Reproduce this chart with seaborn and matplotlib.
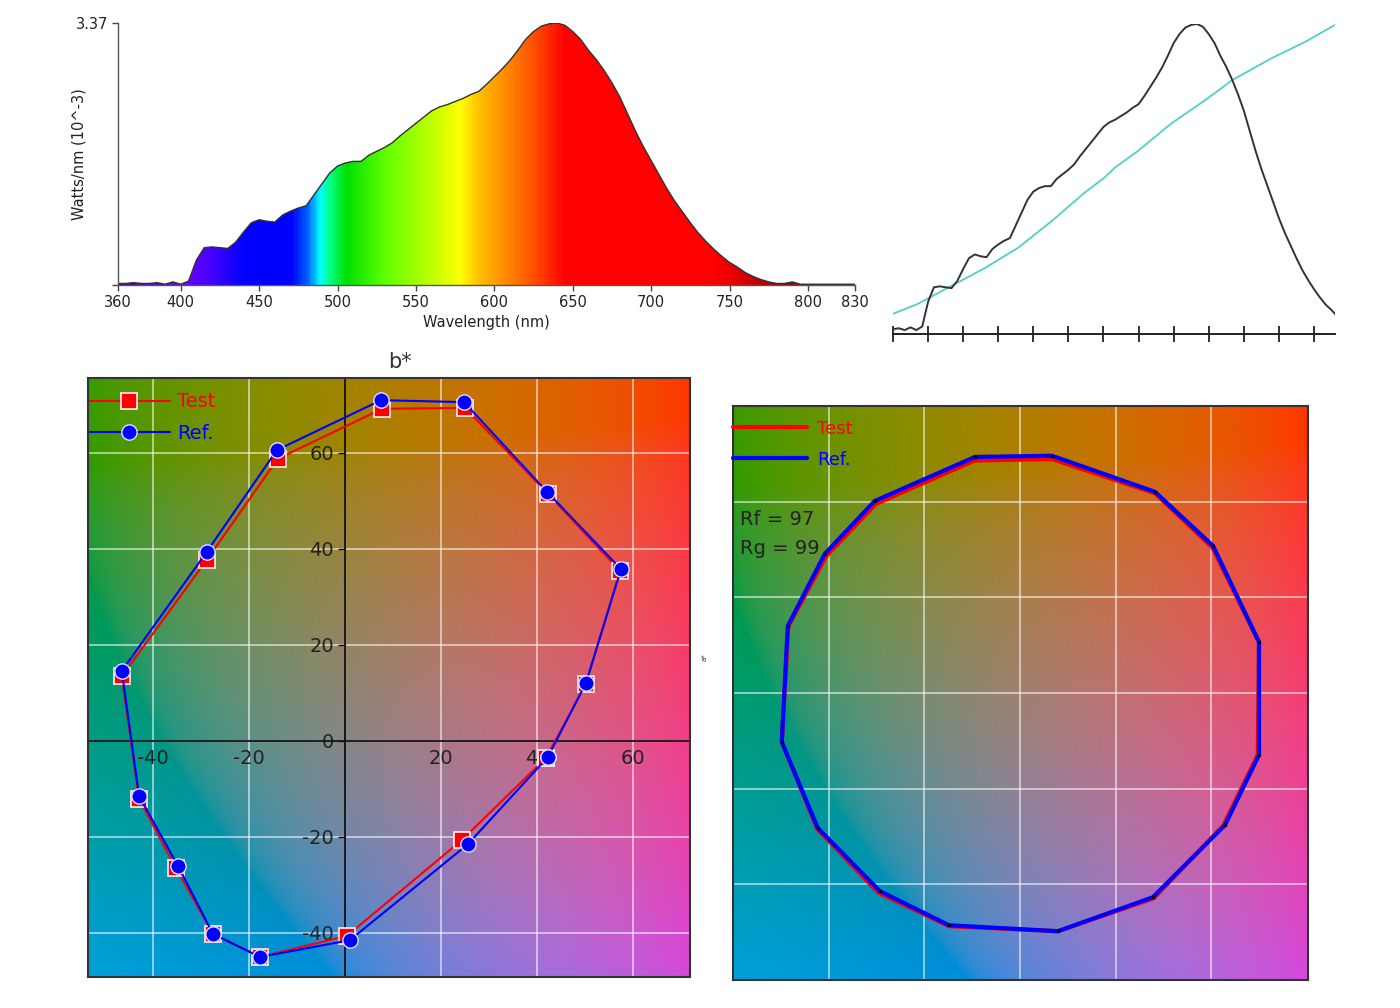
import numpy as np
import matplotlib
matplotlib.use('Agg')
import matplotlib.pyplot as plt
from matplotlib.colors import LinearSegmentedColormap
from matplotlib.patches import Rectangle
import seaborn as sns

sns.set_style('white')
plt.rcParams['font.family'] = ['DejaVu Sans']
plt.rcParams['axes.unicode_minus'] = False

# ── 1. Data ──────────────────────────────────────────────────
# spectral power distribution, 360-830 nm every 5 nm (Watts/nm, 10^-3)
wavelength = np.arange(360, 835, 5)
spd = np.array([
    0.02, 0.02, 0.03, 0.02, 0.02, 0.03, 0.01, 0.04, 0.01, 0.05,
    0.32, 0.48, 0.49, 0.48, 0.47, 0.55, 0.68, 0.80, 0.84, 0.82,
    0.81, 0.90, 0.95, 0.99, 1.02, 1.16, 1.30, 1.44, 1.53, 1.57,
    1.59, 1.59, 1.67, 1.72, 1.77, 1.83, 1.92, 2.00, 2.08, 2.16,
    2.24, 2.29, 2.32, 2.36, 2.40, 2.45, 2.49, 2.58, 2.68, 2.78,
    2.89, 3.02, 3.16, 3.26, 3.33, 3.36, 3.37, 3.34, 3.26, 3.16,
    3.02, 2.90, 2.76, 2.60, 2.42, 2.20, 1.98, 1.78, 1.60, 1.42,
    1.24, 1.08, 0.94, 0.80, 0.67, 0.56, 0.46, 0.37, 0.29, 0.23,
    0.16, 0.11, 0.07, 0.04, 0.02, 0.02, 0.04, 0.01, 0.01, 0.01,
    0.01, 0.01, 0.01, 0.01, 0.01])
spd_ticks = [360, 400, 450, 500, 550, 600, 650, 700, 750, 800, 830]

# reference illuminant (normalised) for the small comparison chart
ref_wl = [380, 401, 430, 459, 487, 516, 544, 561, 570, 589, 618, 647, 670, 704, 732, 758]
ref_spd = [0.056, 0.088, 0.147, 0.206, 0.271, 0.359, 0.451, 0.500, 0.533, 0.585,
           0.676, 0.752, 0.817, 0.889, 0.941, 0.997]
cmp_ticks = [380, 410, 440, 470, 500, 530, 560, 590, 620, 650, 680, 710, 740]

# spectrum fill colours
stop_wl = [360, 400, 420, 440, 470, 480, 488, 495, 505, 530, 555, 578, 590, 605,
           625, 645, 740, 770, 800, 830]
stop_col = ['#4b0082', '#7000ff', '#4000ff', '#0000ff', '#0000ff', '#0060ff', '#00ffff',
            '#00ff80', '#00e000', '#60ff00', '#b0ff00', '#ffff00', '#ffc000', '#ff9000',
            '#ff5000', '#ff0000', '#ff0000', '#c00000', '#800000', '#800000']

# a*, b* colour-shift points
test_a = [41.9, 50.2, 57.3, 42.3, 25.0, 7.7, -14.0, -28.8, -46.5, -42.9, -35.2, -27.5, -17.7, 0.4, 24.4]
test_b = [-3.5, 11.9, 35.4, 51.5, 69.4, 69.2, 58.8, 37.7, 13.5, -12.1, -26.5, -40.2, -45.0, -40.6, -20.6]
ref_a = [42.3, 50.2, 57.5, 42.1, 24.8, 7.5, -14.2, -28.8, -46.5, -42.9, -34.8, -27.5, -17.7, 1.0, 25.6]
ref_b = [-3.3, 12.1, 35.8, 51.9, 70.6, 71.0, 60.6, 39.4, 14.6, -11.5, -26.0, -40.2, -45.0, -41.5, -21.5]
ab_xticks = [-40, -20, 20, 40, 60]
ab_yticks = [-40, -20, 0, 20, 40, 60]

# colour vector graphic (normalised)
cvg_ref_x = [-0.188, 0.134, 0.565, 0.808, 1.0, 1.0, 0.858, 0.556, 0.159, -0.297,
             -0.586, -0.845, -0.996, -0.971, -0.816, -0.607]
cvg_ref_y = [0.987, 0.992, 0.841, 0.615, 0.213, -0.259, -0.552, -0.854, -0.996, -0.971,
             -0.828, -0.565, -0.205, 0.280, 0.582, 0.803]
cvg_test_x = [-0.19, 0.134, 0.565, 0.805, 1.0, 0.995, 0.85, 0.56, 0.159, -0.297,
              -0.592, -0.848, -0.996, -0.968, -0.81, -0.603]
cvg_test_y = [0.972, 0.978, 0.835, 0.608, 0.213, -0.259, -0.555, -0.858, -0.996, -0.975,
              -0.835, -0.568, -0.205, 0.28, 0.572, 0.79]
cvg_ticks = [-0.8, -0.4, 0, 0.4, 0.8]
rf, rg = 97, 99


# ── 2. Helpers ───────────────────────────────────────────────
def lab_background(a_lim, b_lim, L=56, n=300):
    a, b = np.meshgrid(np.linspace(*a_lim, n), np.linspace(*b_lim, n))
    fy = (L + 16) / 116
    fx = fy + a / 500
    fz = fy - b / 200

    def finv(t):
        return np.where(t > 6 / 29, t ** 3, 3 * (6 / 29) ** 2 * (t - 4 / 29))
    xyz = np.stack([0.95047 * finv(fx), np.full_like(a, finv(np.array(fy))),
                    1.08883 * finv(fz)], axis=-1)
    M = np.array([[3.2406, -1.5372, -0.4986],
                  [-0.9689, 1.8758, 0.0415],
                  [0.0557, -0.2040, 1.0570]])
    rgb = np.clip(xyz @ M.T, 0, 1)
    return np.where(rgb <= 0.0031308, 12.92 * rgb, 1.055 * rgb ** (1 / 2.4) - 0.055)


def closed(v):
    return np.append(v, v[0])


W, H = 1400, 1008


def box(x0, y0, x1, y1):
    return [x0 / W, 1 - y1 / H, (x1 - x0) / W, (y1 - y0) / H]


fig = plt.figure(figsize=(W / 100, H / 100), dpi=100)
fig.patch.set_facecolor('white')

# ── 3. Spectrum ──────────────────────────────────────────────
ax1 = fig.add_axes(box(118, 23, 855, 285))
ax1.set_xlim(360, 830)
ax1.set_ylim(0, 3.37)
spec_cmap = LinearSegmentedColormap.from_list(
    'spec', [((w - 360) / 470, c) for w, c in zip(stop_wl, stop_col)])
poly = ax1.fill_between(wavelength, spd, 0, color='none', lw=0)
im = ax1.imshow(np.linspace(0, 1, 600)[None, :], cmap=spec_cmap, aspect='auto',
                extent=[360, 830, 0, 3.37], origin='lower', zorder=1)
im.set_clip_path(poly.get_paths()[0], transform=ax1.transData)
sns.lineplot(x=wavelength, y=spd, color='#333333', lw=1, ax=ax1, zorder=2)
ax1.set_xticks(spd_ticks)
ax1.set_yticks([0, 3.37])
ax1.set_yticklabels(['', '3.37'])
ax1.tick_params(bottom=True, left=True, direction='out', length=4, width=1,
                color='#444', labelsize=10.5, labelcolor='#222', pad=3)
for s in ['top', 'right']:
    ax1.spines[s].set_visible(False)
for s in ['left', 'bottom']:
    ax1.spines[s].set_color('#555')
    ax1.spines[s].set_linewidth(1)
ax1.set_xlabel('Wavelength (nm)', fontsize=10.5, color='#222', labelpad=4)
ax1.set_ylabel('Watts/nm (10^-3)', fontsize=10.5, color='#222')
ax1.yaxis.set_label_coords(-0.043, 0.5)

# ── 4. Test vs reference spectrum ────────────────────────────
ax2 = fig.add_axes(box(893, 24, 1335, 334))
ax2.set_facecolor('none')
ax2.set_xlim(380, 758)
ax2.set_ylim(-0.0098, 1.0)
sns.lineplot(x=ref_wl, y=ref_spd, color='#4fd1c5', lw=1.3, ax=ax2)
sns.lineplot(x=wavelength, y=spd / spd.max(), color='#333333', lw=1.4, ax=ax2)
for s in ['top', 'right', 'left']:
    ax2.spines[s].set_visible(False)
ax2.spines['bottom'].set_color('#222')
ax2.spines['bottom'].set_linewidth(1.4)
ax2.set_xticks(cmp_ticks)
ax2.set_yticks([])
ax2.tick_params(axis='x', bottom=True, direction='inout', length=12, width=1.3,
                color='#222', labelbottom=False)

# ── 5. a*b* colour shift chart ───────────────────────────────
a_lim, b_lim = (-53.54, 71.875), (-49.17, 75.625)
bg = lab_background(a_lim, b_lim)
ax3 = fig.add_axes(box(88, 378, 690, 977))
ax3.imshow(bg, extent=[*a_lim, *b_lim], origin='lower', aspect='auto', zorder=0)
ax3.set_xlim(*a_lim)
ax3.set_ylim(*b_lim)
ax3.set_xticks(ab_xticks)
ax3.set_yticks(ab_yticks)
ax3.grid(True, color='white', alpha=0.55, lw=1.4)
sns.lineplot(x=closed(test_a), y=closed(test_b), sort=False, estimator=None,
             color='#ff0000', lw=1.5, marker='s', markersize=12,
             markeredgecolor='#ffe0e0', markeredgewidth=1.3, label='Test', ax=ax3, zorder=3)
sns.lineplot(x=closed(ref_a), y=closed(ref_b), sort=False, estimator=None,
             color='#0000ff', lw=1.5, marker='o', markersize=11,
             markeredgecolor='#e0e0ff', markeredgewidth=1.0, label='Ref.', ax=ax3, zorder=4)
for s in ['left', 'bottom']:
    ax3.spines[s].set_position(('data', 0))
    ax3.spines[s].set_color('#111')
    ax3.spines[s].set_linewidth(1.3)
    ax3.spines[s].set_zorder(2)
for s in ['top', 'right']:
    ax3.spines[s].set_visible(False)
ax3.add_patch(Rectangle((0, 0), 1, 1, transform=ax3.transAxes, fill=False,
                        ec='#333', lw=1.5, zorder=6, clip_on=False))
ax3.tick_params(axis='y', left=True, direction='out', length=5, width=1, color='#111',
                labelsize=14, labelcolor='#222', pad=3)
ax3.tick_params(axis='x', length=0, labelsize=14, labelcolor='#222', pad=6)
ax3.legend(loc='upper left', bbox_to_anchor=(0, 0.976), frameon=False, fontsize=14,
           borderpad=0, borderaxespad=0, handlelength=4.2, handletextpad=0.4,
           labelspacing=0.65, labelcolor='linecolor')
ax3.text(0.518, 1.027, 'b*', transform=ax3.transAxes, ha='center', va='center',
         fontsize=15, color='#333')
fig.text(705 / W, 1 - 657 / H, 'a*', rotation=90, fontsize=5, color='#333',
         ha='center', va='center')

# ── 6. Colour vector graphic ─────────────────────────────────
ax4 = fig.add_axes(box(733, 406, 1308, 980))
ax4.imshow(bg, extent=[-1.2, 1.205, -1.2, 1.2], origin='lower', aspect='auto', zorder=0)
ax4.set_xlim(-1.2, 1.205)
ax4.set_ylim(-1.2, 1.2)
ax4.set_xticks(cvg_ticks)
ax4.set_yticks(cvg_ticks)
ax4.grid(True, color='white', alpha=0.55, lw=1.4)
ax4.tick_params(length=0, labelbottom=False, labelleft=False)
sns.lineplot(x=closed(cvg_test_x), y=closed(cvg_test_y), sort=False, estimator=None,
             color='#ff0000', lw=3, label='Test', ax=ax4, zorder=3)
sns.lineplot(x=closed(cvg_ref_x), y=closed(cvg_ref_y), sort=False, estimator=None,
             color='#0000ff', lw=3, label='Ref.', ax=ax4, zorder=4)
sns.scatterplot(x=cvg_ref_x, y=cvg_ref_y, color='black', s=6, linewidth=0,
                legend=False, ax=ax4, zorder=5)
for s in ax4.spines.values():
    s.set_color('#333')
    s.set_linewidth(1.5)
ax4.legend(loc='upper left', bbox_to_anchor=(0, 0.976), frameon=False, fontsize=13,
           borderpad=0, borderaxespad=0, handlelength=4.1, handletextpad=0.55,
           labelspacing=0.72, labelcolor='linecolor')
ax4.text(0.012, 0.803, f'Rf = {rf}', transform=ax4.transAxes, ha='left', va='center',
         fontsize=14, color='#222')
ax4.text(0.012, 0.751, f'Rg = {rg}', transform=ax4.transAxes, ha='left', va='center',
         fontsize=14, color='#222')

fig.savefig('out.png', dpi=100, facecolor='white')
